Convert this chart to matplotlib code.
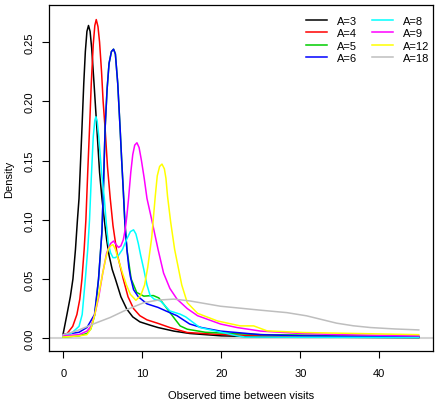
import matplotlib.pyplot as plt

plt.rcParams['font.family'] = ['Liberation Sans', 'DejaVu Sans']

# density curves (x = observed time, y = density)
x_a3 = [0, 0.47, 0.9, 1.23, 1.55, 1.8, 2.0, 2.2, 2.37, 2.6, 2.8, 3.0, 3.2, 3.4, 3.6, 3.9, 4.26, 4.6, 4.9, 5.2, 5.5, 5.8, 6.2, 6.6, 7.3, 8.05, 8.8, 9.7, 11, 12, 14, 16, 20, 25, 30, 45]
y_a3 = [0.004, 0.02, 0.035, 0.05, 0.075, 0.10, 0.118, 0.15, 0.177, 0.215, 0.242, 0.259, 0.264, 0.259, 0.245, 0.215, 0.177, 0.14, 0.118, 0.10, 0.083, 0.07, 0.058, 0.05, 0.035, 0.0245, 0.018, 0.0138, 0.011, 0.009, 0.006, 0.004, 0.002, 0.0012, 0.001, 0.0005]

x_a4 = [0, 0.5, 1.2, 1.73, 2.1, 2.37, 2.65, 2.87, 3.1, 3.33, 3.55, 3.8, 4.0, 4.18, 4.4, 4.6, 4.85, 5.05, 5.3, 5.6, 5.95, 6.3, 6.8, 7.6, 8.2, 8.9, 9.7, 10.6, 12, 13.5, 15.7, 19.2, 25, 30, 45]
y_a4 = [0.003, 0.004, 0.01, 0.02, 0.033, 0.05, 0.075, 0.10, 0.14, 0.177, 0.215, 0.248, 0.264, 0.269, 0.263, 0.25, 0.225, 0.2, 0.177, 0.145, 0.118, 0.095, 0.072, 0.05, 0.035, 0.025, 0.019, 0.0155, 0.0125, 0.009, 0.0048, 0.0034, 0.002, 0.0015, 0.0008]

x_a5 = [0, 2, 3, 3.5, 4, 4.47, 4.9, 5.1, 5.3, 5.55, 5.8, 6.1, 6.37, 6.6, 6.9, 7.2, 7.4, 7.6, 7.8, 8.06, 8.6, 9.3, 10.2, 10.8, 11.4, 12.1, 12.8, 13.5, 14.8, 15.7, 18, 25, 40, 42, 45]
y_a5 = [0.001, 0.002, 0.004, 0.008, 0.02, 0.05, 0.09, 0.13, 0.177, 0.21, 0.232, 0.242, 0.244, 0.24, 0.215, 0.177, 0.15, 0.125, 0.098, 0.075, 0.05, 0.0386, 0.0355, 0.0358, 0.036, 0.034, 0.028, 0.0217, 0.0104, 0.0076, 0.005, 0.003, 0.002, 0.0025, 0.0015]

x_a6 = [0, 2, 3, 3.96, 4.47, 4.9, 5.1, 5.3, 5.55, 5.8, 6.1, 6.37, 6.6, 6.9, 7.2, 7.4, 7.6, 7.8, 8.06, 8.3, 8.5, 8.9, 9.5, 10.6, 12, 13, 14.4, 16, 17.5, 19.9, 25, 30, 45]
y_a6 = [0.003, 0.005, 0.009, 0.02, 0.05, 0.09, 0.13, 0.177, 0.21, 0.232, 0.242, 0.244, 0.24, 0.215, 0.177, 0.15, 0.125, 0.098, 0.075, 0.06, 0.052, 0.041, 0.035, 0.029, 0.026, 0.023, 0.019, 0.012, 0.009, 0.006, 0.003, 0.002, 0.001]

x_a8 = [0, 1, 2, 2.4, 2.8, 3.1, 3.33, 3.55, 3.8, 4.0, 4.14, 4.3, 4.5, 4.85, 5.2, 5.45, 5.7, 6.0, 6.3, 6.6, 7.0, 7.5, 8.0, 8.5, 8.9, 9.2, 9.5, 9.8, 10.2, 10.6, 11, 11.5, 12.3, 13.5, 14.8, 15.5, 17.3, 20, 22, 23, 30, 45]
y_a8 = [0.002, 0.004, 0.01, 0.02, 0.05, 0.075, 0.10, 0.135, 0.17, 0.184, 0.187, 0.183, 0.17, 0.14, 0.118, 0.097, 0.08, 0.072, 0.068, 0.068, 0.07, 0.075, 0.083, 0.09, 0.0915, 0.088, 0.08, 0.07, 0.058, 0.045, 0.036, 0.033, 0.0315, 0.023, 0.0203, 0.018, 0.009, 0.005, 0.002, 0.001, 0.0008, 0.0006]

x_a9 = [0, 2, 3, 3.5, 4, 4.5, 5, 5.5, 6, 6.37, 6.7, 7.0, 7.3, 7.6, 7.85, 8.05, 8.27, 8.55, 8.8, 9.05, 9.33, 9.6, 9.9, 10.25, 10.6, 11.2, 12, 12.7, 13.5, 14.4, 15.7, 17, 19.9, 22, 25, 30, 35, 45]
y_a9 = [0.002, 0.003, 0.006, 0.01, 0.02, 0.035, 0.055, 0.072, 0.08, 0.082, 0.079, 0.0766, 0.078, 0.083, 0.092, 0.103, 0.118, 0.14, 0.155, 0.163, 0.165, 0.161, 0.15, 0.135, 0.118, 0.10, 0.075, 0.055, 0.042, 0.033, 0.025, 0.019, 0.012, 0.009, 0.006, 0.004, 0.003, 0.002]

x_a12 = [0, 2, 3, 3.5, 4, 4.5, 5, 5.4, 5.7, 6.0, 6.3, 6.6, 7, 7.5, 8, 8.5, 9.2, 9.8, 10.3, 10.7, 11.2, 11.65, 11.9, 12.2, 12.5, 12.8, 13.0, 13.2, 13.6, 14.1, 15, 15.7, 17, 19.5, 22.4, 24.1, 25.8, 30.4, 45]
y_a12 = [0.001, 0.002, 0.003, 0.008, 0.02, 0.037, 0.055, 0.068, 0.075, 0.078, 0.079, 0.075, 0.066, 0.055, 0.045, 0.037, 0.032, 0.036, 0.045, 0.06, 0.085, 0.12, 0.137, 0.145, 0.147, 0.143, 0.135, 0.12, 0.098, 0.075, 0.045, 0.03, 0.021, 0.0146, 0.0104, 0.0104, 0.0062, 0.0048, 0.003]

x_a18 = [0, 1.7, 4, 5.95, 8, 10.2, 12, 14, 16, 19.9, 24.9, 28.3, 30.8, 32.7, 34.6, 36.7, 38.9, 42, 45]
y_a18 = [0.003, 0.0062, 0.0125, 0.0175, 0.024, 0.030, 0.0322, 0.033, 0.0315, 0.027, 0.0237, 0.0216, 0.0189, 0.0158, 0.0127, 0.0105, 0.009, 0.0078, 0.007]

labels = ["A=3", "A=4", "A=5", "A=6", "A=8", "A=9", "A=12", "A=18"]
colors = ["black", "red", "#00CD00", "blue", "cyan", "magenta", "yellow", "#BEBEBE"]
xs = [x_a3, x_a4, x_a5, x_a6, x_a8, x_a9, x_a12, x_a18]
ys = [y_a3, y_a4, y_a5, y_a6, y_a8, y_a9, y_a12, y_a18]

fig = plt.figure(figsize=(4.4, 4.02), dpi=100)
ax = fig.add_axes([49 / 440, 1 - 352 / 402, 384 / 440, 346 / 402])

ax.axhline(0, color="#D3D3D3", lw=1.5, zorder=0)
for x, y, c, lab in zip(xs, ys, colors, labels):
    ax.plot(x, y, color=c, lw=1.1, label=lab, solid_joinstyle="round")

ax.set_xlim(-1.8, 46.8)
ax.set_ylim(-0.0108, 0.2813)
ax.set_xticks([0, 10, 20, 30, 40])
ax.set_yticks([0, 0.05, 0.10, 0.15, 0.20, 0.25])
ax.set_yticklabels(["0.00", "0.05", "0.10", "0.15", "0.20", "0.25"], rotation=90, va="center")
ax.tick_params(labelsize=8, length=5, width=0.8)
ax.tick_params(axis="x", pad=7)
ax.tick_params(axis="y", pad=5)
for s in ax.spines.values():
    s.set_linewidth(0.9)

ax.set_xlabel("Observed time between visits", fontsize=8, labelpad=9)
ax.set_ylabel("Density", fontsize=8, labelpad=8)

ax.legend(ncol=2, frameon=False, fontsize=8, loc="upper right",
          bbox_to_anchor=(1.005, 0.985), handlelength=1.9, handletextpad=0.9,
          columnspacing=1.3, labelspacing=0.22, borderpad=0)

plt.savefig("out.png", dpi=100)
